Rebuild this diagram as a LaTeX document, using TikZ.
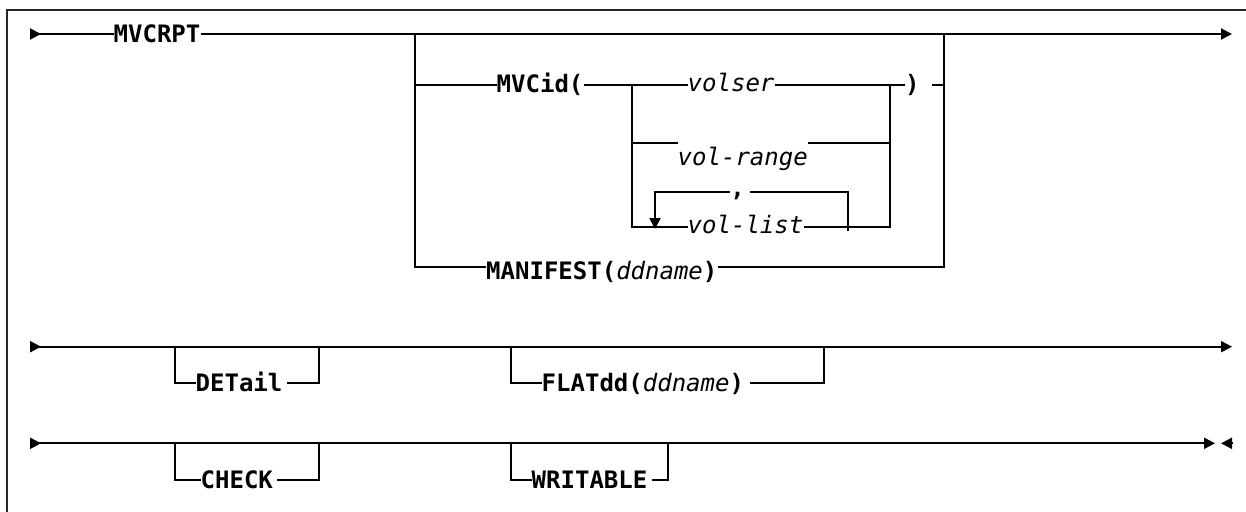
\documentclass[tikz,border=0pt]{standalone}
\usepackage{fontspec}
\newfontfamily\dmono{DejaVu Sans Mono}
\usetikzlibrary{arrows.meta}
\tikzset{
  rail/.style={line width=2pt, line join=miter},
  kw/.style={font=\dmono\fontsize{24}{24}\selectfont\bfseries, inner sep=0pt, anchor=base west},
  var/.style={font=\dmono\fontsize{24}{24}\selectfont\itshape, inner sep=0pt, anchor=base west},
  tipE/.style={-{Triangle[length=11pt,width=11pt]}},
  tipS/.style={{Triangle[length=11pt,width=11pt,reversed]}-},
  tipSE/.style={{Triangle[length=11pt,width=11pt,reversed]}-{Triangle[length=11pt,width=11pt]}},
  frame/.style={line width=2pt, black!85}
}
\begin{document}
\begin{tikzpicture}[x=1pt,y=1pt]
\useasboundingbox (0,0) rectangle (1246,-511);
% frame
\draw[frame] (1250,-10.5) -- (7,-10.5) -- (7,-515);

% ---------- row 1 ----------
\coordinate (s1) at (30,-34);
\coordinate (e1) at (1232,-34);
\node[kw] (mvcrpt) at (113.5,-42) {MVCRPT};
\draw[rail, tipS] (s1) -- (s1 -| mvcrpt.west);
\draw[rail, tipE] (s1 -| mvcrpt.east) -- (e1);

% big bracket
\coordinate (bL1) at (415,-34);
\coordinate (bL2) at (415,-267.3);
\coordinate (bR1) at (944,-34);
\coordinate (bR2) at (944,-267.3);
\coordinate (bLm) at (415,-85);
\coordinate (bRm) at (944,-85);

\node[kw] (mvcid) at (496.5,-92) {MVCid(};
\node[var] (volser) at (687.5,-91) {volser};
\node[kw] (paren) at (905,-92) {)};
\node[kw] (manifest) at (486,-279) {MANIFEST({\mdseries\itshape ddname})};

\draw[rail] (bL1) -- (bL2) -- (bL2 -| manifest.west);
\draw[rail] (bR1) -- (bR2) -- (bR2 -| manifest.east);
\draw[rail] (bLm) -- (bLm -| mvcid.west);
\draw[rail] (bLm -| mvcid.east) -- (bLm -| volser.west);
\draw[rail] (bLm -| volser.east) -- (bLm -| paren.west);
\coordinate (pr) at ([xshift=12.5pt]bLm -| paren.east);
\draw[rail] (pr) -- (bRm);

% inner choice
\coordinate (iL1) at (632,-85);
\coordinate (iL2) at (632,-227);
\coordinate (iR1) at (890,-85);
\coordinate (iR2) at (890,-227);
\coordinate (vrL) at (632,-142.7);
\coordinate (vrR) at (890,-142.7);
\node[var] (volrange) at (677.5,-165) {vol-range};
\node[var] (vollist) at (687.5,-233.5) {vol-list};
\draw[rail] (iL1) -- (iL2) -- (iL2 -| vollist.west);
\draw[rail] (iR1) -- (iR2) -- (iR2 -| vollist.east);
\draw[rail] (vrL) -- (vrL -| volrange.west);
\draw[rail] (vrR) -- (vrR -| volrange.east);

% repeat loop
\coordinate (lR0) at (848,-231);
\coordinate (lRT) at (848,-191.7);
\coordinate (lLT) at (655,-191.7);
\coordinate (lLB) at (655,-229);
\node[kw, anchor=base] (comma) at (737.5,-196) {,};
\draw[rail] (lR0) -- (lRT) -- ([xshift=5pt]lRT -| comma.east);
\draw[rail, tipE] (lLT -| comma.west) -- (lLT) -- (lLB);

% ---------- row 2 ----------
\coordinate (s2) at (30,-346.7);
\coordinate (e2) at (1232,-346.7);
\draw[rail, tipSE] (s2) -- (e2);

\coordinate (dA) at (175,-346.7);
\coordinate (dB) at (175,-383.3);
\coordinate (dC) at (319,-383.3);
\coordinate (dD) at (319,-346.7);
\node[kw] (detail) at (195.5,-391.5) {DETail};
\draw[rail] (dA) -- (dB) -- (dB -| detail.west);
\draw[rail] ([xshift=4pt]dC -| detail.east) -- (dC) -- (dD);

\coordinate (fA) at (511,-346.7);
\coordinate (fB) at (511,-383.3);
\coordinate (fC) at (824,-383.3);
\coordinate (fD) at (824,-346.7);
\node[kw] (flatdd) at (541.5,-391.5) {FLATdd({\mdseries\itshape ddname})};
\draw[rail] (fA) -- (fB) -- (fB -| flatdd.west);
\draw[rail] ([xshift=6pt]fC -| flatdd.east) -- (fC) -- (fD);

% ---------- row 3 ----------
\coordinate (s3) at (30,-443.3);
\coordinate (e3) at (1215,-443.3);
\coordinate (x3a) at (1232,-443.3);
\coordinate (x3b) at (1221,-443.3);
\draw[rail, tipSE] (s3) -- (e3);
\draw[rail, tipE] (x3a) -- (x3b);

\coordinate (cA) at (175,-443.3);
\coordinate (cB) at (175,-480);
\coordinate (cC) at (319,-480);
\coordinate (cD) at (319,-443.3);
\node[kw] (check) at (200.5,-488) {CHECK};
\draw[rail] (cA) -- (cB) -- (cB -| check.west);
\draw[rail] ([xshift=4pt]cC -| check.east) -- (cC) -- (cD);

\coordinate (wA) at (511,-443.3);
\coordinate (wB) at (511,-480);
\coordinate (wC) at (668,-480);
\coordinate (wD) at (668,-443.3);
\node[kw] (writable) at (531.5,-488) {WRITABLE};
\draw[rail] (wA) -- (wB) -- (wB -| writable.west);
\draw[rail] ([xshift=4pt]wC -| writable.east) -- (wC) -- (wD);
\end{tikzpicture}
\end{document}
